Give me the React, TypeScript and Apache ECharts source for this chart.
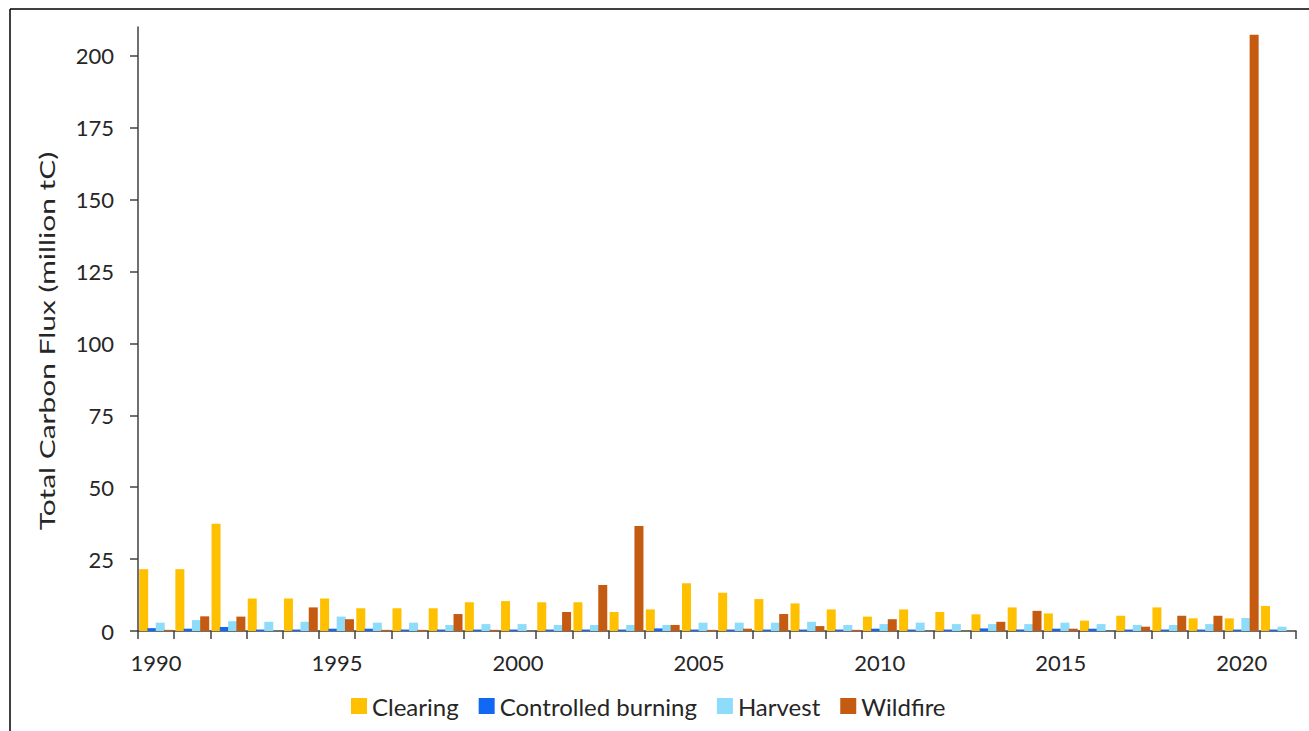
import React, { useEffect, useRef } from "react";
import * as echarts from "echarts";

const years = [
  "1990", "1991", "1992", "1993", "1994", "1995", "1996", "1997", "1998", "1999",
  "2000", "2001", "2002", "2003", "2004", "2005", "2006", "2007", "2008", "2009",
  "2010", "2011", "2012", "2013", "2014", "2015", "2016", "2017", "2018", "2019",
  "2020", "2021",
];

const clearing = [
  21.5, 21.5, 37.3, 11.3, 11.3, 11.3, 7.9, 7.9, 7.9, 10.0,
  10.4, 10.0, 10.0, 6.6, 7.5, 16.6, 13.3, 11.1, 9.6, 7.5,
  5.0, 7.5, 6.6, 5.8, 8.2, 6.1, 3.6, 5.3, 8.2, 4.4,
  4.4, 8.7,
];

const controlledBurning = [
  1.0, 0.8, 1.4, 0.5, 0.5, 0.8, 0.8, 0.5, 0.5, 0.5,
  0.5, 0.5, 0.5, 0.5, 0.9, 0.5, 0.5, 0.5, 0.5, 0.5,
  0.8, 0.5, 0.5, 0.9, 0.5, 0.8, 0.8, 0.5, 0.5, 0.5,
  0.5, 0.5,
];

const harvest = [
  2.9, 3.8, 3.4, 3.2, 3.2, 5.0, 2.9, 2.9, 2.1, 2.4,
  2.4, 2.1, 2.1, 2.1, 2.1, 2.9, 2.9, 2.9, 3.2, 2.1,
  2.4, 2.9, 2.4, 2.4, 2.4, 2.9, 2.4, 2.1, 2.1, 2.4,
  4.5, 1.5,
];

const wildfire = [
  0.4, 5.1, 5.0, 0, 8.2, 4.1, 0.4, 0.4, 5.9, 0.4,
  0, 6.6, 16.0, 36.5, 2.1, 0.4, 0.8, 5.9, 1.7, 0.4,
  4.1, 0, 0, 3.2, 7.0, 0.8, 0, 1.5, 5.3, 5.3,
  207.3, 0,
];

const yTicks = [0, 25, 50, 75, 100, 125, 150, 175, 200];

const seriesNames = ["Clearing", "Controlled burning", "Harvest", "Wildfire"];
const seriesColors = ["#FFC000", "#1168F5", "#8EDCFB", "#C55A11"];
const yAxisTitle = "Total Carbon Flux (million tC)";

const FONT = "Lato, 'Open Sans', sans-serif";
const TEXT = "#262626";

export default function App() {
  const ref = useRef<HTMLDivElement>(null);

  useEffect(() => {
    document.body.style.margin = "0";
    const chart = echarts.init(ref.current!, null, { renderer: "svg" });
    const data = [clearing, controlledBurning, harvest, wildfire];
    chart.setOption({
      animation: false,
      backgroundColor: "#ffffff",
      textStyle: { fontFamily: FONT },
      grid: { left: 138, right: 13, top: 27, bottom: 100, containLabel: false },
      legend: {
        bottom: 8,
        left: 346,
        itemWidth: 16,
        itemHeight: 16,
        itemGap: 20,
        icon: "rect",
        textStyle: { fontSize: 24, color: TEXT, fontFamily: FONT },
        data: seriesNames,
      },
      xAxis: {
        type: "category",
        data: years,
        axisLine: { show: true, lineStyle: { color: "#404040", width: 1.5 } },
        axisTick: { show: true, interval: 0, length: 8, lineStyle: { color: "#404040", width: 1.5 } },
        axisLabel: { interval: 4, fontSize: 22, color: TEXT, margin: 20, fontFamily: FONT },
        splitLine: { show: false },
      },
      yAxis: {
        type: "value",
        min: 0,
        max: 210,
        interval: 25,
        axisLine: { show: true, lineStyle: { color: "#404040", width: 1.5 } },
        axisTick: { show: true, length: 8, customValues: yTicks, lineStyle: { color: "#404040", width: 1.5 } },
        axisLabel: { fontSize: 22, color: TEXT, margin: 24, customValues: yTicks, fontFamily: FONT },
        splitLine: { show: false },
      },
      series: seriesNames.map((name, i) => ({
        name,
        type: "bar",
        data: data[i],
        barWidth: 9,
        barGap: "-8%",
        itemStyle: { color: seriesColors[i] },
      })),
      graphic: [
        {
          type: "text",
          x: 47,
          y: 341,
          rotation: Math.PI / 2,
          scaleX: 1.36,
          style: {
            text: yAxisTitle,
            fontSize: 22,
            fontFamily: FONT,
            fill: TEXT,
            align: "center",
            verticalAlign: "middle",
          },
        },
        { type: "line", shape: { x1: 10, y1: 9, x2: 1309, y2: 9 }, style: { stroke: "#000", lineWidth: 1.5 }, z: 100 },
        { type: "line", shape: { x1: 10, y1: 9, x2: 10, y2: 731 }, style: { stroke: "#000", lineWidth: 1.5 }, z: 100 },
      ],
    });
    return () => chart.dispose();
  }, []);

  return (
    <div
      ref={ref}
      style={{ position: "absolute", left: 0, top: 0, width: 1309, height: 731 }}
    />
  );
}
